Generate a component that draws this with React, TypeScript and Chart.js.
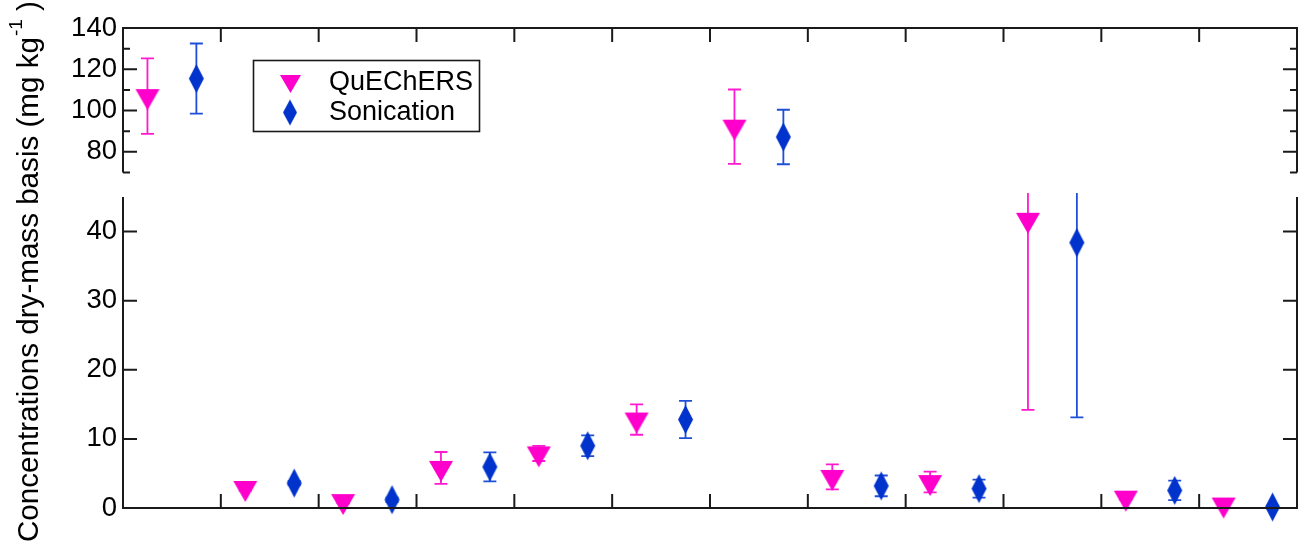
import React, { useEffect, useRef } from 'react';
import { Chart, registerables } from 'chart.js';

Chart.register(...registerables);

// ---------------- data ----------------
const categories = ['1', '2', '3', '4', '5', '6', '7', '8', '9', '10', '11', '12'];
const seriesNames = ['QuEChERS', 'Sonication'];
const quechersMean = [107, 2.9, 1.0, 5.8, 7.9, 12.8, 92.2, 4.5, 3.75, 41.7, 1.5, 0.5];
const quechersErr = [18.3, 0.4, 0.3, 2.3, 1.1, 2.2, 18, 1.8, 1.5, 27.5, 0.3, 0.2];
const sonicationMean = [115.5, 3.6, 1.2, 5.95, 9.0, 12.8, 87.2, 3.2, 2.8, 38.4, 2.55, 0.15];
const sonicationErr = [17, 0.3, 0.3, 2.1, 1.5, 2.7, 13.2, 1.5, 1.3, 25.3, 1.4, 0.2];
const topRange = [70, 140];
const bottomRange = [0, 45];
const topMajorTicks = [80, 100, 120, 140];
const topMinorTicks = [70, 90, 110, 130];
const bottomMajorTicks = [0, 10, 20, 30, 40];
const yTitleMain = 'Concentrations dry-mass basis (mg kg';
const yTitleSup = '-1';
const yTitleEnd = ' )';

// ---------------- styles ----------------
const MAGENTA = '#FF00CC';
const MAGENTA_LINE = '#FF1ACF';
const BLUE = '#0033CC';
const BLUE_LINE = '#1F4FD8';
const FRAME = '#1a1a1a';
const FONT = '"Liberation Sans", Arial, Helvetica, sans-serif';
const W = 1308;
const H = 551;

function makeTriangle(w: number, h: number, color: string) {
  const ch = Math.round((4 * h) / 3) + 2;
  const c = document.createElement('canvas');
  c.width = w + 2;
  c.height = ch;
  const ctx = c.getContext('2d')!;
  const top = ch / 2 - h / 3;
  ctx.fillStyle = color;
  ctx.beginPath();
  ctx.moveTo(1, top);
  ctx.lineTo(w + 1, top);
  ctx.lineTo(w / 2 + 1, top + h);
  ctx.closePath();
  ctx.fill();
  return c;
}

function makeDiamond(w: number, h: number, color: string) {
  const c = document.createElement('canvas');
  c.width = w + 2;
  c.height = h + 2;
  const ctx = c.getContext('2d')!;
  ctx.fillStyle = color;
  ctx.beginPath();
  ctx.moveTo(w / 2 + 1, 1);
  ctx.lineTo(w + 1, h / 2 + 1);
  ctx.lineTo(w / 2 + 1, h + 1);
  ctx.lineTo(1, h / 2 + 1);
  ctx.closePath();
  ctx.fill();
  return c;
}

const errorBarPlugin = {
  id: 'errorBars',
  beforeDatasetsDraw(chart: any) {
    const ctx = chart.ctx;
    const ys = chart.scales.y;
    const area = chart.chartArea;
    chart.data.datasets.forEach((ds: any, di: number) => {
      const meta = chart.getDatasetMeta(di);
      meta.data.forEach((pt: any, i: number) => {
        const v = ds.data[i].y;
        if (v == null) return;
        const e = ds.errors[i];
        const px = pt.x;
        const rawTop = ys.getPixelForValue(v + e);
        const rawBot = ys.getPixelForValue(v - e);
        const limTop = area.top - 4;
        const yTop = Math.max(rawTop, limTop);
        const yBot = rawBot;
        ctx.save();
        ctx.strokeStyle = ds.errorColor;
        ctx.lineWidth = 1.8;
        ctx.beginPath();
        ctx.moveTo(px, yTop);
        ctx.lineTo(px, yBot);
        if (rawTop >= limTop) {
          ctx.moveTo(px - 6.5, rawTop);
          ctx.lineTo(px + 6.5, rawTop);
        }
        ctx.moveTo(px - 6.5, yBot);
        ctx.lineTo(px + 6.5, yBot);
        ctx.stroke();
        ctx.restore();
      });
    });
  },
};

function framePlugin(kind: 'top' | 'bottom') {
  return {
    id: 'frame_' + kind,
    afterDraw(chart: any) {
      const ctx = chart.ctx;
      const a = chart.chartArea;
      const xs = chart.scales.x;
      const ys = chart.scales.y;
      ctx.save();
      ctx.strokeStyle = FRAME;
      ctx.lineWidth = 2;
      ctx.lineCap = 'butt';
      ctx.beginPath();
      ctx.moveTo(a.left, a.bottom);
      ctx.lineTo(a.left, a.top);
      ctx.moveTo(a.right, a.bottom);
      ctx.lineTo(a.right, a.top);
      if (kind === 'top') {
        ctx.moveTo(a.left - 1, a.top);
        ctx.lineTo(a.right + 1, a.top);
      } else {
        ctx.moveTo(a.left - 1, a.bottom);
        ctx.lineTo(a.right + 1, a.bottom);
      }
      for (let k = 1; k < categories.length; k++) {
        const px = xs.getPixelForValue(k);
        if (kind === 'top') {
          ctx.moveTo(px, a.top);
          ctx.lineTo(px, a.top + 14);
        } else {
          ctx.moveTo(px, a.bottom);
          ctx.lineTo(px, a.bottom - 14);
        }
      }
      const major = kind === 'top' ? topMajorTicks : bottomMajorTicks;
      const minor = kind === 'top' ? topMinorTicks : [];
      const drawY = (v: number, len: number) => {
        const py = ys.getPixelForValue(v);
        ctx.moveTo(a.left, py);
        ctx.lineTo(a.left + len, py);
        ctx.moveTo(a.right, py);
        ctx.lineTo(a.right - len, py);
      };
      major.forEach((v) => drawY(v, 14));
      minor.forEach((v) => drawY(v, 7));
      ctx.stroke();
      ctx.restore();
    },
  };
}

function legendPlugin(triImg: HTMLCanvasElement, diaImg: HTMLCanvasElement) {
  return {
    id: 'customLegend',
    afterDraw(chart: any) {
      const ctx = chart.ctx;
      ctx.save();
      ctx.fillStyle = '#fff';
      ctx.fillRect(253.5, 60.5, 226, 71);
      ctx.strokeStyle = FRAME;
      ctx.lineWidth = 1.6;
      ctx.strokeRect(253.5, 60.5, 226, 71);
      ctx.drawImage(triImg, 290.5 - triImg.width / 2, 81 - triImg.height / 2);
      ctx.drawImage(diaImg, 290 - diaImg.width / 2, 112.5 - diaImg.height / 2);
      ctx.fillStyle = '#000';
      ctx.font = `27px ${FONT}`;
      ctx.textAlign = 'left';
      ctx.textBaseline = 'alphabetic';
      ctx.fillText(seriesNames[0], 329, 89.5);
      ctx.fillText(seriesNames[1], 329, 120);
      ctx.restore();
    },
  };
}

const titlePlugin = {
  id: 'yTitle',
  afterDraw(chart: any) {
    const ctx = chart.ctx;
    ctx.save();
    ctx.translate(38, 542);
    ctx.rotate(-Math.PI / 2);
    ctx.fillStyle = '#000';
    ctx.textAlign = 'left';
    ctx.textBaseline = 'alphabetic';
    ctx.font = `29.6px ${FONT}`;
    ctx.fillText(yTitleMain, 0, 0);
    let x = ctx.measureText(yTitleMain).width + 1;
    ctx.font = `19px ${FONT}`;
    ctx.fillText(yTitleSup, x, -16);
    x += ctx.measureText(yTitleSup).width;
    ctx.font = `29.6px ${FONT}`;
    ctx.fillText(yTitleEnd, x, 0);
    ctx.restore();
  },
};

function buildConfig(kind: 'top' | 'bottom', imgs: any) {
  const [min, max] = kind === 'top' ? topRange : bottomRange;
  const inRange = (v: number) => (v >= min && v <= max ? v : null);
  const qData = categories.map((_, i) => ({ x: i + 0.25, y: inRange(quechersMean[i]) }));
  const sData = categories.map((_, i) => ({ x: i + 0.75, y: inRange(sonicationMean[i]) }));
  const ticks = kind === 'top' ? topMajorTicks : bottomMajorTicks;
  const plugins: any[] = [errorBarPlugin, framePlugin(kind)];
  if (kind === 'top') plugins.push(legendPlugin(imgs.triLegend, imgs.diaLegend));
  else plugins.push(titlePlugin);
  return {
    type: 'scatter',
    data: {
      datasets: [
        {
          label: seriesNames[0],
          data: qData,
          errors: quechersErr,
          errorColor: MAGENTA_LINE,
          pointStyle: imgs.tri,
          pointRadius: 10,
          showLine: false,
          clip: false,
        },
        {
          label: seriesNames[1],
          data: sData,
          errors: sonicationErr,
          errorColor: BLUE_LINE,
          pointStyle: imgs.dia,
          pointRadius: 10,
          showLine: false,
          clip: false,
        },
      ],
    },
    options: {
      responsive: false,
      animation: false,
      events: [],
      layout: {
        padding:
          kind === 'top'
            ? { left: 0, right: 6, top: 28, bottom: H - 172.5 }
            : { left: 0, right: 6, top: 197, bottom: H - 508 },
      },
      plugins: { legend: { display: false }, tooltip: { enabled: false } },
      scales: {
        x: { type: 'linear', min: 0, max: categories.length, display: false },
        y: {
          type: 'linear',
          min,
          max,
          afterBuildTicks: (s: any) => {
            s.ticks = ticks.map((v) => ({ value: v }));
          },
          afterFit: (s: any) => {
            s.width = 123;
          },
          grid: { display: false, drawTicks: false },
          border: { display: false },
          ticks: {
            padding: 6,
            color: '#000',
            font: { family: FONT, size: 27.5 },
          },
        },
      },
    },
    plugins,
  } as any;
}

export default function App() {
  const topRef = useRef<HTMLCanvasElement>(null);
  const botRef = useRef<HTMLCanvasElement>(null);

  useEffect(() => {
    const imgs = {
      tri: makeTriangle(24, 21, MAGENTA),
      dia: makeDiamond(15, 29, BLUE),
      triLegend: makeTriangle(21, 18, MAGENTA),
      diaLegend: makeDiamond(14, 26, BLUE),
    };
    const bottom = new Chart(botRef.current!, buildConfig('bottom', imgs));
    const top = new Chart(topRef.current!, buildConfig('top', imgs));
    return () => {
      top.destroy();
      bottom.destroy();
    };
  }, []);

  const canvasStyle: React.CSSProperties = {
    position: 'absolute',
    left: 0,
    top: 0,
    width: W,
    height: H,
  };

  return (
    <div style={{ position: 'fixed', left: 0, top: 0, width: W, height: H, background: '#fff' }}>
      <canvas ref={botRef} width={W} height={H} style={canvasStyle} />
      <canvas ref={topRef} width={W} height={H} style={canvasStyle} />
    </div>
  );
}
